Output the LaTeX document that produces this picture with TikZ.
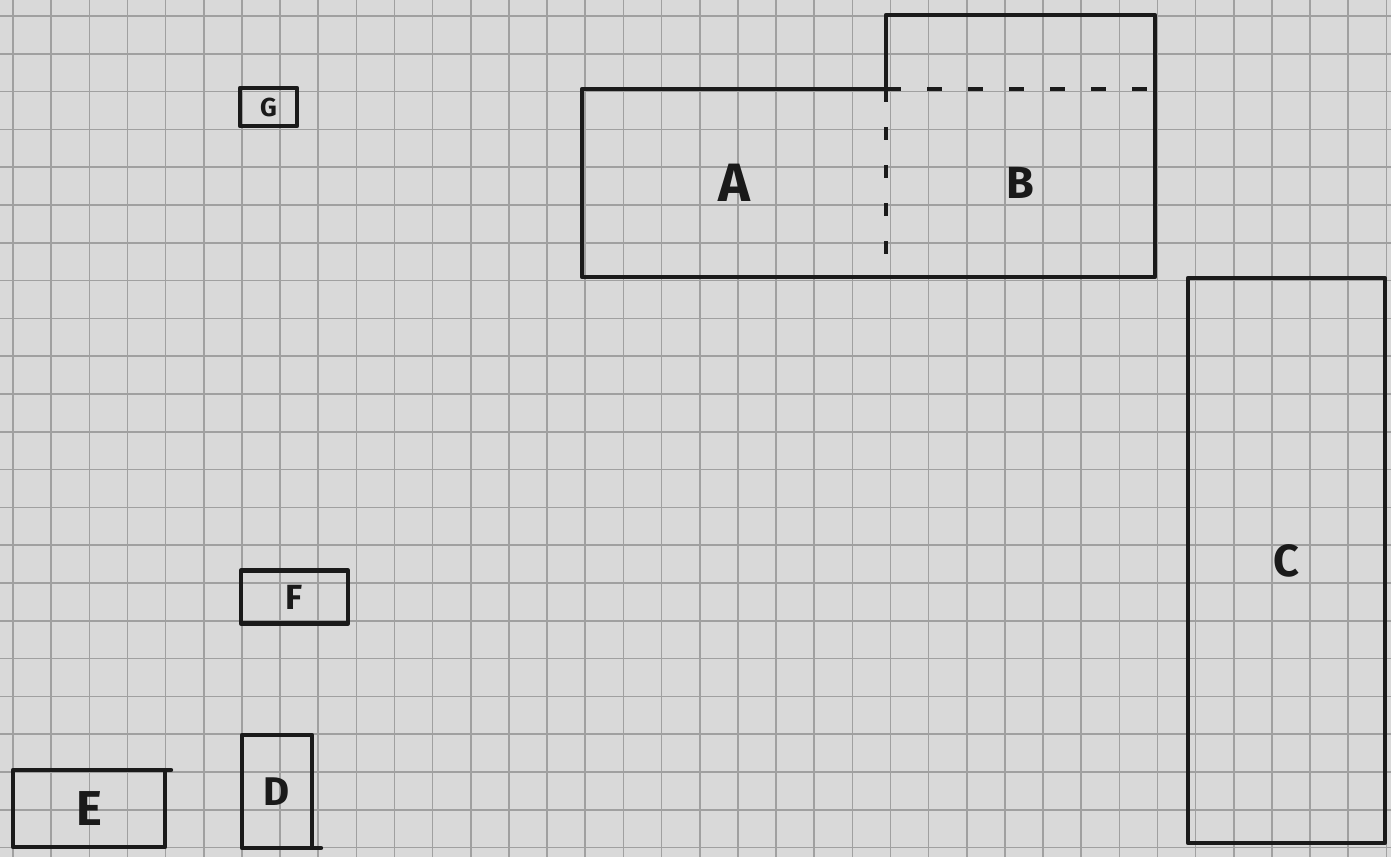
\documentclass[tikz,border=0pt]{standalone}
\usepackage{fontspec}
\usetikzlibrary{calc}
\newfontfamily\hand{Fira Sans}
\definecolor{paper}{HTML}{D9D9D9}
\definecolor{gridc}{HTML}{A0A0A0}
\definecolor{ink}{HTML}{1A1A1A}
\begin{document}
\begin{tikzpicture}[x=1pt,y=-1pt,
  gridline/.style={draw=gridc,line width=1.6pt},
  edge/.style={draw=ink,line width=4.4pt,line cap=round,line join=round},
  dashedge/.style={draw=ink,line width=4pt,dash pattern=on 15pt off 26pt},
  box/.style={edge,rectangle,inner sep=0pt,outer sep=0pt,text=ink},
  plain/.style={rectangle,inner sep=0pt,outer sep=0pt,text=ink},
  lab/.style={font=\hand\bfseries\fontsize{#1}{#1}\selectfont}]
\fill[paper] (0,0) rectangle (1391,857);
\useasboundingbox (0,0) rectangle (1391,857);
% grid
\foreach \i in {0,...,36} \draw[gridline] ({13+38.15*\i},0) -- ({13+38.15*\i},857);
\foreach \j in {0,...,22} \draw[gridline] (0,{16+37.8*\j}) -- (1391,{16+37.8*\j});
% A and B
\node[plain,lab=54,minimum width=304pt,minimum height=188pt] (A) at (734,183) {A};
\node[plain,lab=45,minimum width=269pt,minimum height=188pt] (B) at (1020.5,183) {B};
\coordinate (Btl) at (886,15);
\coordinate (Btr) at (1155,15);
\coordinate (Aend) at ($(A.south east)+(0,-7)$);
\draw[edge] (A.south west) -- (A.north west) -- (A.north east) -- (Btl) -- (Btr) -- (B.south east) -- cycle;
\draw[dashedge] (A.north east) -- (B.north east);
\draw[dashedge,dash pattern=on 13pt off 25pt] (A.north east) -- (Aend);
% C
\node[box,lab=45,minimum width=197pt,minimum height=565pt] (C) at (1286.5,560.5) {C};
% G
\node[box,lab=26,minimum width=57pt,minimum height=38pt] (G) at (268.5,107) {G};
% F
\node[box,lab=35,minimum width=107pt,minimum height=53pt] (F) at (294.5,597) {F};
% E
\node[box,lab=49,minimum width=152pt,minimum height=77pt] (E) at (89,808.5) {E};
\draw[edge] (E.north east) -- ++(6,0);
% D
\node[box,lab=40,minimum width=70pt,minimum height=113pt] (D) at (277,791.5) {D};
\draw[edge] (D.south east) -- ++(9,0);
\end{tikzpicture}
\end{document}
